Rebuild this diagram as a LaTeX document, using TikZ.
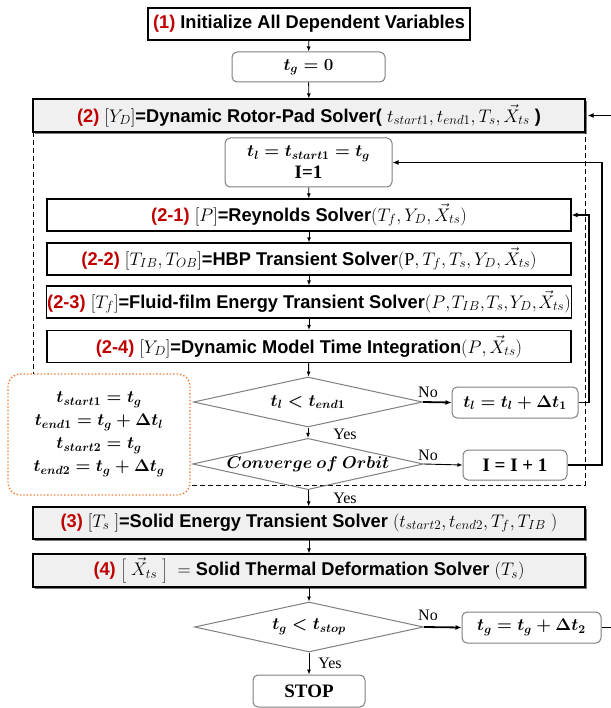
\documentclass[tikz,border=0pt]{standalone}
\usepackage{fix-cm}
\usepackage{fontspec}
\setmainfont{Liberation Serif}
\newfontfamily\narrowsf[FakeStretch=0.985]{Liberation Sans}
\DeclareMathSizes{18.5}{18.2}{13.2}{10}
\usetikzlibrary{shapes,arrows.meta,positioning,shadows}

\definecolor{numred}{HTML}{C00000}
\definecolor{noteorange}{HTML}{ED7D31}
\definecolor{framegray}{HTML}{7F7F7F}

\newcommand{\stepnum}[1]{\textcolor{numred}{#1}}
\newcommand{\titlefont}{\narrowsf\bfseries\fontsize{18.5}{20}\selectfont}
\newcommand{\valuefont}{\fontsize{17}{22}\selectfont\bfseries\boldmath}
\newcommand{\answerfont}{\fontsize{16}{18}\selectfont}
\newcommand{\romanbold}[1]{{\fontsize{19}{22}\selectfont\textbf{#1}}}

\tikzset{
    solver/.style={
        draw, line width=1.2pt, fill=white,
        minimum height=32pt, inner sep=1pt,
        font=\titlefont
    },
    mainsolver/.style={
        solver, fill=black!6,
        drop shadow={shadow xshift=2pt, shadow yshift=-2pt,
            fill=black!65, opacity=0.8}
    },
    roundbox/.style={
        draw=framegray, line width=1pt, fill=white,
        rounded corners=5pt, minimum height=30pt,
        inner sep=2pt, align=center, font=\valuefont
    },
    decision/.style={
        diamond, draw=framegray, line width=1pt, aspect=4.5,
        inner sep=0pt, minimum width=229pt, minimum height=50pt,
        font=\valuefont
    },
    flow/.style={-{Latex[length=5pt,width=4pt]}, line width=0.9pt},
    loopback/.style={-{Latex[length=6pt,width=5pt]}, line width=1.8pt},
    answer/.style={font=\answerfont, inner sep=0pt}
}

\begin{document}
\begin{tikzpicture}[x=1pt, y=-1pt]
\useasboundingbox (0,0) rectangle (610,708);

% outer steps
\node[solver, minimum width=322pt] (init) at (309,24)
    {\stepnum{(1)} Initialize All Dependent Variables};
\node[roundbox, minimum width=153pt] (tgzero) at (308.5,67) {$t_g = 0$};
\node[mainsolver, minimum width=552pt, minimum height=33pt] (rotorpad) at (309,115.5)
    {\stepnum{(2)} $[Y_D]$=Dynamic Rotor-Pad Solver( $t_{start1}{,}\, t_{end1}{,}\, T_s{,}\, \vec{X}_{ts}$ )};

% inner loop of step (2)
\draw[dash pattern=on 5pt off 3pt, line width=1pt] (33,132) rectangle (585,485);
\node[roundbox, minimum width=167pt, minimum height=49pt] (tlocal) at (308.5,162.5)
    {$t_l = t_{start1} = t_g$\\ \romanbold{I=1}};
\node[solver, minimum width=524pt] (reynolds) at (309,215)
    {\stepnum{(2-1)} $[P]$=Reynolds Solver$\bigl(T_f{,}\, Y_D{,}\, \vec{X}_{ts}\bigr)$};
\node[solver, minimum width=524pt] (hbp) at (309,259)
    {\stepnum{(2-2)} $[T_{IB}{,}\, T_{OB}]$=HBP Transient Solver$\bigl(\mathrm{P}{,}\, T_f{,}\, T_s{,}\, Y_D{,}\, \vec{X}_{ts}\bigr)$};
\node[solver, minimum width=524pt] (film) at (309,302)
    {\stepnum{(2-3)} $[T_f]$=Fluid-film Energy Transient Solver$\bigl(P{,}\mkern1.5mu T_{IB}{,}\mkern1.5mu T_s{,}\mkern1.5mu Y_D{,}\mkern1.5mu \vec{X}_{ts}\bigr)$};
\node[solver, minimum width=524pt] (integ) at (309,346.5)
    {\stepnum{(2-4)} $[Y_D]$=Dynamic Model Time Integration$\bigl(P{,}\, \vec{X}_{ts}\bigr)$};
\node[decision] (timecheck) at (308,402) {$t_l < t_{end1}$};
\node[decision, minimum height=48pt] (converge) at (308,464) {$Converge\ of\ Orbit$};
\node[roundbox, minimum width=126pt, minimum height=31pt] (tlinc) at (515,402.5)
    {$t_l = t_l + \Delta t_1$};
\node[roundbox, minimum width=104pt] (iinc) at (515,465) {\romanbold{I = I + 1}};

% time window note
\node[draw=noteorange, dotted, line width=1.4pt, rounded corners=12pt, fill=white,
    minimum width=182pt, minimum height=121pt, align=center,
    font=\fontsize{17}{23}\selectfont\boldmath] (timeset) at (99,434.5)
    {$t_{start1} = t_g$\\ $t_{end1} = t_g + \Delta t_l$\\
     $t_{start2} = t_g$\\ $t_{end2} = t_g + \Delta t_g$};

% steps (3) and (4)
\node[mainsolver, minimum width=552pt] (solid) at (309,523)
    {\stepnum{(3)} $[T_s\ ]$=Solid Energy Transient Solver $\left(t_{start2}{,}\, t_{end2}{,}\, T_f{,}\, T_{IB}\ \right)$};
\node[mainsolver, minimum width=552pt, minimum height=33pt] (deform) at (309,570.5)
    {\stepnum{(4)} $\left[\ \vec{X}_{ts}\ \right]\ =$ Solid Thermal Deformation Solver $(T_s)$};
\node[decision] (globalcheck) at (309,627) {$t_g < t_{stop}$};
\node[roundbox, minimum width=139pt, minimum height=31pt] (tginc) at (531.5,627.5)
    {$t_g = t_g + \Delta t_2$};
\node[roundbox, minimum width=112pt, minimum height=32pt] (stop) at (309,691)
    {\romanbold{STOP}};

% rails of the loop-backs
\coordinate (innerrail) at (589,0);
\coordinate (outerrail) at (602,0);
\coordinate (pagerail) at (616,0);

% main line
\draw[flow] (init) -- (tgzero);
\draw[flow] (tgzero) -- (rotorpad);
\draw[flow] (tlocal) -- (reynolds);
\draw[flow] (reynolds) -- (hbp);
\draw[flow] (hbp) -- (film);
\draw[flow] (film) -- (integ);
\draw[flow] (integ) -- (timecheck);
\draw[flow] (timecheck) -- (converge);
\draw[flow] (converge) -- (solid);
\draw[flow] (solid) -- (deform);
\draw[flow] (deform) -- (globalcheck);
\draw[flow] (globalcheck) -- (stop);

% branches
\draw[loopback] (timecheck.east) -- (tlinc.west);
\draw[flow] (converge.east) -- (iinc.west);
\draw[loopback] (globalcheck.east) -- (tginc.west);
\draw[loopback] (tlinc.east) -- (tlinc.east -| innerrail) |- (reynolds.east);
\draw[loopback] (iinc.east) -- (iinc.east -| outerrail) |- (tlocal.east);
\draw[loopback] (tginc.east) -- (tginc.east -| pagerail) |- ([xshift=2pt]rotorpad.east);

% answers
\node[answer] (no1) at (428,392) {No};
\node[answer] (no2) at (428,455) {No};
\node[answer] (no3) at (428,615) {No};
\node[answer] (yes1) at (345,434) {Yes};
\node[answer] (yes2) at (345,498) {Yes};
\node[answer] (yes3) at (330,663) {Yes};
\end{tikzpicture}
\end{document}
